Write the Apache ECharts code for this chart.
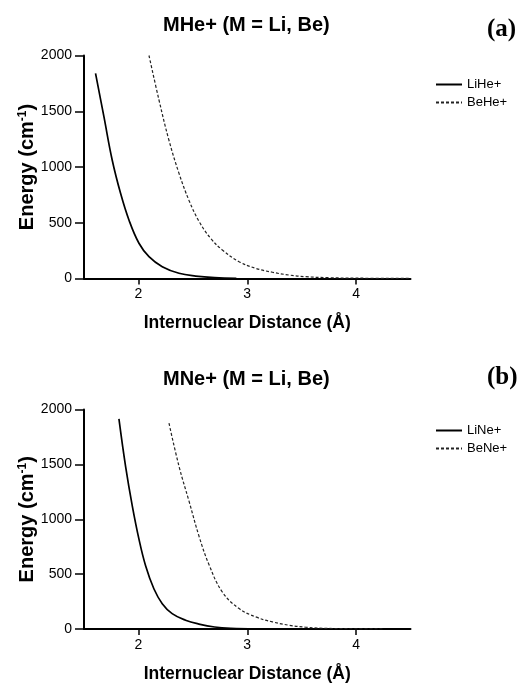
<!DOCTYPE html>
<html>
<head>
<meta charset="utf-8">
<script src="https://cdn.jsdelivr.net/npm/echarts@6/dist/echarts.min.js"></script>
<style>html,body{margin:0;padding:0;background:#fff}#c{width:529px;height:684px}</style>
</head>
<body>
<div id="c"></div>
<script>
// Panel (a): MHe+
const liHeX = [1.606, 1.683, 1.759, 1.836, 1.913, 2.005, 2.097, 2.219, 2.373, 2.526, 2.7, 2.9];
const liHeY = [1840, 1451, 1063, 764, 525, 316, 196, 106, 47, 22, 8, 2];
const beHeX = [2.097, 2.189, 2.28, 2.373, 2.465, 2.557, 2.664, 2.771, 2.925, 3.078, 3.231, 3.385, 3.538, 3.75, 4.0, 4.5];
const beHeY = [2000, 1601, 1242, 943, 700, 512, 360, 256, 151, 91, 56, 31, 16, 7, 3, 1];
// Panel (b): MNe+
const liNeX = [1.821, 1.882, 1.944, 2.005, 2.066, 2.142, 2.219, 2.31, 2.433, 2.556, 2.7, 2.85, 3.08];
const liNeY = [1914, 1482, 1120, 819, 577, 367, 231, 140, 80, 45, 18, 6, 1];
const beNeX = [2.281, 2.373, 2.465, 2.557, 2.649, 2.771, 2.925, 3.078, 3.231, 3.385, 3.538, 3.75, 4.0, 4.25];
const beNeY = [1875, 1482, 1165, 845, 585, 337, 186, 110, 65, 34, 16, 5, 2, 0];
const xTicks = [2, 3, 4];

const pair = (xs, ys) => xs.map((x, i) => [x, ys[i]]);
const FONT = 'Liberation Sans, Arial, sans-serif';

function xAxisCfg(gi) {
  return {
    gridIndex: gi, type: 'value', min: 1.5, max: 4.5,
    name: 'Internuclear Distance (Å)', nameLocation: 'middle', nameGap: 36, nameMoveOverlap: false,
    nameTextStyle: {fontFamily: FONT, fontWeight: 'bold', fontSize: 17.5, color: '#000'},
    axisLine: {onZero: false, lineStyle: {color: '#000', width: 2}},
    axisTick: {show: true, length: 6, customValues: xTicks, lineStyle: {color: '#000', width: 1.5}},
    axisLabel: {customValues: xTicks, margin: 9, fontFamily: FONT, fontSize: 14, color: '#000'},
    splitLine: {show: false}
  };
}
function yAxisCfg(gi) {
  return {
    gridIndex: gi, type: 'value', min: 0, max: 2000, interval: 500,
    name: 'Energy (cm{sup|-1})', nameLocation: 'middle', nameGap: 46, nameRotate: 90, nameMoveOverlap: false,
    nameTextStyle: {fontFamily: FONT, fontWeight: 'bold', fontSize: 20, color: '#000',
      rich: {sup: {fontFamily: FONT, fontWeight: 'bold', fontSize: 12, color: '#000', verticalAlign: 'top', padding: [0,0,9,0]}}},
    axisLine: {show: true, lineStyle: {color: '#000', width: 2}},
    axisTick: {show: true, length: 9, lineStyle: {color: '#000', width: 1.5}},
    axisLabel: {margin: 12, fontFamily: FONT, fontSize: 14, color: '#000', formatter: v => String(v)},
    splitLine: {show: false}
  };
}
function line(name, data, gi, dashed) {
  return {
    name, type: 'line', xAxisIndex: gi, yAxisIndex: gi, data,
    smooth: 0.4, symbol: 'none', showSymbol: false,
    lineStyle: dashed ? {color: '#222', width: 1.2, type: [3, 2]} : {color: '#000', width: 1.7},
    itemStyle: {color: '#000'}
  };
}
const legendBase = {orient: 'vertical', left: 430, itemWidth: 26, itemHeight: 10, itemGap: 5,
  itemStyle: {opacity: 0}, textStyle: {fontFamily: FONT, fontSize: 13, color: '#000'}};
const chart = echarts.init(document.getElementById('c'), null, {renderer: 'canvas'});
chart.setOption({
  backgroundColor: '#fff',
  animation: false,
  title: [
    {text: 'MHe+ (M = Li, Be)', left: 158, top: 10, textStyle: {fontFamily: FONT, fontWeight: 'bold', fontSize: 20, color: '#000'}},
    {text: 'MNe+ (M = Li, Be)', left: 158, top: 364, textStyle: {fontFamily: FONT, fontWeight: 'bold', fontSize: 20, color: '#000'}},
    {text: '(a)', left: 482, top: 12, textStyle: {fontFamily: 'Liberation Serif, Times New Roman, serif', fontWeight: 'bold', fontSize: 25, color: '#000'}},
    {text: '(b)', left: 482, top: 360, textStyle: {fontFamily: 'Liberation Serif, Times New Roman, serif', fontWeight: 'bold', fontSize: 25, color: '#000'}}
  ],
  legend: [
    Object.assign({data: ['LiHe+', 'BeHe+'], top: 73}, legendBase),
    Object.assign({data: ['LiNe+', 'BeNe+'], top: 419}, legendBase)
  ],
  grid: [
    {left: 84, top: 55.5, width: 326.5, height: 223},
    {left: 84, top: 409.5, width: 326.5, height: 221}
  ],
  xAxis: [xAxisCfg(0), xAxisCfg(1)],
  yAxis: [yAxisCfg(0), yAxisCfg(1)],
  series: [
    line('LiHe+', pair(liHeX, liHeY), 0, false),
    line('BeHe+', pair(beHeX, beHeY), 0, true),
    line('LiNe+', pair(liNeX, liNeY), 1, false),
    line('BeNe+', pair(beNeX, beNeY), 1, true)
  ]
});
</script>
</body>
</html>
